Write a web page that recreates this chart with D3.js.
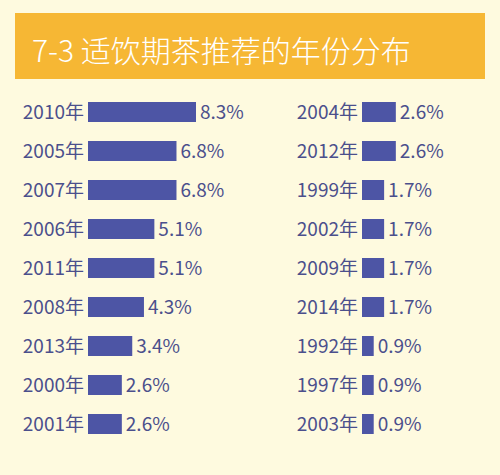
<!DOCTYPE html>
<meta charset="utf-8">
<script src="https://d3js.org/d3.v7.min.js"></script>
<style>
  body { margin: 0; background: #fefadf; }
  text { font-family: "Noto Sans CJK SC", "Noto Sans", sans-serif; }
</style>
<div id="chart"></div>
<script>

    // data: two columns of years and their shares (%)
    var leftYears = ["2010年", "2005年", "2007年", "2006年", "2011年", "2008年", "2013年", "2000年", "2001年"];
    var leftValues = [8.3, 6.8, 6.8, 5.1, 5.1, 4.3, 3.4, 2.6, 2.6];
    var rightYears = ["2004年", "2012年", "1999年", "2002年", "2009年", "2014年", "1992年", "1997年", "2003年"];
    var rightValues = [2.6, 2.6, 1.7, 1.7, 1.7, 1.7, 0.9, 0.9, 0.9];
    var title = "7-3 适饮期茶推荐的年份分布";

    var width = 500, height = 475;

    var svg = d3.select("#chart")
        .append("svg")
        .attr("width", width)
        .attr("height", height);

    svg.append("rect")
        .attr("width", width)
        .attr("height", height)
        .style("fill", "#fefadf");

    // title band
    svg.append("rect")
        .attr("x", 15)
        .attr("y", 13)
        .attr("width", 470)
        .attr("height", 66)
        .style("fill", "#f6b734");

    svg.append("text")
        .attr("x", 32)
        .attr("y", 62)
        .text(title)
        .style("fill", "#ffffff")
        .style("font-size", "30px")
        .style("font-weight", 300);

    // shared scales
    var x = d3.scaleLinear()
        .domain([0, 8.3])
        .range([0, 108]);

    var y = d3.scalePoint()
        .domain(d3.range(9))
        .range([112, 424]);

    var barH = 20;

    function drawColumn(years, values, x0) {
        var g = svg.append("g")
            .attr("transform", "translate(" + x0 + ",0)");

        g.selectAll(".bar")
            .data(values)
            .enter()
            .append("rect")
            .attr("class", "bar")
            .attr("x", 0)
            .attr("y", function(d, i) { return y(i) - barH / 2; })
            .attr("width", function(d) { return x(d); })
            .attr("height", barH)
            .style("fill", "#4d55a5");

        g.selectAll(".year")
            .data(years)
            .enter()
            .append("text")
            .attr("class", "year")
            .attr("x", -4)
            .attr("y", function(d, i) { return y(i); })
            .attr("dy", "0.35em")
            .attr("text-anchor", "end")
            .text(function(d) { return d; })
            .style("fill", "#4b4f8c")
            .style("font-size", "19px");

        g.selectAll(".val")
            .data(values)
            .enter()
            .append("text")
            .attr("class", "val")
            .attr("x", function(d) { return x(d) + 4; })
            .attr("y", function(d, i) { return y(i); })
            .attr("dy", "0.35em")
            .text(function(d) { return d.toFixed(1) + "%"; })
            .style("fill", "#4b4f8c")
            .style("font-size", "19px");
    }

    drawColumn(leftYears, leftValues, 88);
    drawColumn(rightYears, rightValues, 362);

</script>
